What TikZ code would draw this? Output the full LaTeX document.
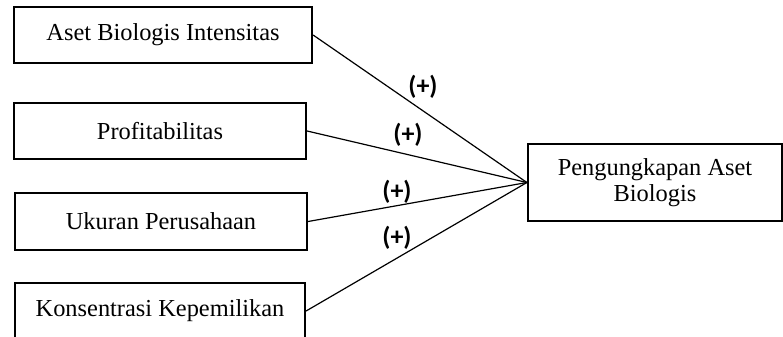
\documentclass[tikz,border=0pt]{standalone}
\usepackage{fontspec}
\setmainfont{Liberation Serif}
\newfontfamily\labelfont{Carlito}

\tikzset{
  varbox/.style={draw, line width=1.1pt, minimum height=28pt, inner sep=0pt,
    font=\fontsize{12.2}{13}\selectfont},
  signlbl/.style={font=\labelfont\bfseries\fontsize{13}{14}\selectfont, inner sep=0pt},
  link/.style={line width=.6pt}
}

\begin{document}
\begin{tikzpicture}[x=.5pt, y=-.5pt]
  \useasboundingbox (0, 0) rectangle (783, 337);
  \clip (0, 0) rectangle (783, 337);

  %% independent variables
  \node[varbox, minimum width=149pt] (asset) at (163, 35) {Aset Biologis Intensitas};
  \node[varbox, minimum width=146pt] (profit) at (160, 131) {Profitabilitas};
  \node[varbox, minimum width=146pt, minimum height=28.5pt] (size) at (161, 221.5) {Ukuran Perusahaan};
  \node[varbox, minimum width=145pt] (owner) at (160, 311) {Konsentrasi Kepemilikan};

  %% dependent variable
  \node[varbox, minimum width=127pt, minimum height=38.5pt, align=center] (disclose) at (655, 182.5)
    {Pengungkapan Aset\\Biologis};

  %% links
  \draw[link] (asset.east) -- (disclose.west);
  \draw[link] (profit.east) -- (disclose.west);
  \draw[link] (size.east) -- (disclose.west);
  \draw[link] (owner.east) -- (disclose.west);

  %% signs
  \node[signlbl] (sgnA) at (423, 87) {(+)};
  \node[signlbl] (sgnB) at (408, 135) {(+)};
  \node[signlbl] (sgnC) at (397, 192) {(+)};
  \node[signlbl] (sgnD) at (397, 238) {(+)};
\end{tikzpicture}
\end{document}
